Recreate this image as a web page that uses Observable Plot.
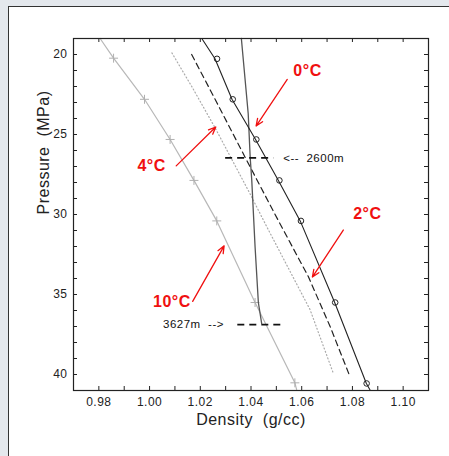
<!DOCTYPE html>
<html><head><meta charset="utf-8">
<script src="https://cdn.jsdelivr.net/npm/d3@7"></script>
<script src="https://cdn.jsdelivr.net/npm/@observablehq/plot@0.6"></script>
<style>
html,body{margin:0;padding:0;}
body{width:449px;height:456px;background:#e4e8ed;position:relative;overflow:hidden;font-family:"Liberation Sans",Arial,sans-serif;}
#panel{position:absolute;left:8px;top:6px;width:470px;height:480px;background:#fff;border-left:1px solid #333;border-top:1px solid #333;}
#chart{position:absolute;left:0;top:0;}
</style></head><body><div id="panel"></div><div id="chart"></div>
<script>
// ---- data ----
const xTicks = [0.98, 1.00, 1.02, 1.04, 1.06, 1.08, 1.10];
const xMinorTicks = [0.97,0.98,0.99,1.00,1.01,1.02,1.03,1.04,1.05,1.06,1.07,1.08,1.09,1.10,1.11];
const yTicks = [20, 25, 30, 35, 40];
const yMinorTicks = [19,20,21,22,23,24,25,26,27,28,29,30,31,32,33,34,35,36,37,38,39,40,41];

// 10 C curve (light gray solid, + markers)
const line10D = [0.9805, 0.9858, 0.9980, 1.0081, 1.0175, 1.0265, 1.0416, 1.0573, 1.0580];
const line10P = [19.0, 20.23, 22.8, 25.31, 27.87, 30.4, 35.5, 40.52, 40.95];
const mark10D = [0.9858, 0.9980, 1.0081, 1.0175, 1.0265, 1.0416, 1.0573];
const mark10P = [20.23, 22.8, 25.31, 27.87, 30.4, 35.5, 40.52];

// 0 C curve (black solid, circle markers)
const line0D = [1.0206, 1.0258, 1.0325, 1.0418, 1.0508, 1.0594, 1.0730, 1.0855, 1.0869];
const line0P = [19.0, 20.27, 22.8, 25.31, 27.87, 30.4, 35.5, 40.56, 40.95];
const mark0D = [1.0266, 1.0328, 1.0421, 1.0512, 1.0597, 1.0732, 1.0856];
const mark0P = [20.27, 22.8, 25.31, 27.87, 30.4, 35.5, 40.56];

// 2 C curve (black dashed)
const line2D = [1.0166, 1.0265, 1.0378, 1.0495, 1.0626, 1.0712, 1.0787];
const line2P = [20.0, 23.0, 26.46, 30.0, 33.88, 37.0, 40.0];

// 4 C curve (gray dotted)
const line4D = [1.0088, 1.0170, 1.0259, 1.0396, 1.0462, 1.0633, 1.0724];
const line4P = [19.9, 22.1, 24.6, 28.7, 30.76, 35.95, 39.9];

// near-vertical profile line
const profD = [1.0362, 1.0389, 1.0397, 1.0403, 1.0416, 1.0429, 1.0442];
const profP = [19.0, 23.7, 26.48, 27.85, 32.0, 35.5, 36.8];

// depth markers
const depthLabels = ["<--  2600m", "3627m  -->"];
const depthP = [26.46, 36.88];
const depthD1 = [1.0298, 1.0346];
const depthD2 = [1.0488, 1.0534];
const depthTextD = [1.0527, 1.0053];

// red temperature labels and arrows
const tempLabels = ["0°C", "4°C", "2°C", "10°C"];
const tempTextD = [1.0623, 1.0008, 1.0859, 1.0088];
const tempTextP = [21.0, 26.95, 29.93, 35.43];
const arrowD1 = [1.0543, 1.0105, 1.0764, 1.0170];
const arrowP1 = [21.56, 26.96, 30.97, 35.43];
const arrowD2 = [1.0420, 1.0261, 1.0642, 1.0294];
const arrowP2 = [24.47, 24.53, 33.91, 31.96];

// ---- build tables ----
const zip = (D, P) => D.map((d, i) => ({D: d, P: P[i]}));
const depths = depthLabels.map((t, i) => ({t, P: depthP[i], D1: depthD1[i], D2: depthD2[i], Dt: depthTextD[i]}));
const temps = tempLabels.map((t, i) => ({t, D: tempTextD[i], P: tempTextP[i], D1: arrowD1[i], P1: arrowP1[i], D2: arrowD2[i], P2: arrowP2[i]}));

const W = 449, H = 456, mL = 73, mR = 21, mT = 38, mB = 66;
const fw = W - mL - mR, fh = H - mT - mB;
const tl = 4;
const font = "'Liberation Sans', Arial, Helvetica, sans-serif";

const chart = Plot.plot({
  width: W, height: H,
  marginLeft: mL, marginRight: mR, marginTop: mT, marginBottom: mB,
  style: {background: "transparent", fontFamily: font, fontSize: "12px", color: "#222", letterSpacing: "0.5px"},
  x: {domain: [0.97, 1.11], ticks: xTicks, tickSize: 0, tickPadding: 7, tickFormat: d3.format(".2f"), label: null},
  y: {domain: [19, 41], reverse: true, ticks: yTicks, tickSize: 0, tickPadding: 6, tickFormat: d3.format("d"), label: null},
  marks: [
    // inward ticks on all four sides
    Plot.ruleX(xMinorTicks, {x: d => d, insetTop: fh - tl, stroke: "#222"}),
    Plot.ruleX(xMinorTicks, {x: d => d, insetBottom: fh - tl, stroke: "#222"}),
    Plot.ruleY(yMinorTicks, {y: d => d, insetRight: fw - tl, stroke: "#222"}),
    Plot.ruleY(yMinorTicks, {y: d => d, insetLeft: fw - tl, stroke: "#222"}),
    // curves
    Plot.line(zip(line4D, line4P), {x: "D", y: "P", stroke: "#aaa", strokeWidth: 1.2, strokeDasharray: "1,2.5"}),
    Plot.line(zip(line10D, line10P), {x: "D", y: "P", stroke: "#b8b8b8", strokeWidth: 1.2}),
    Plot.dot(zip(mark10D, mark10P), {x: "D", y: "P", symbol: "plus", r: 3, stroke: "#b0b0b0", strokeWidth: 1}),
    Plot.line(zip(line2D, line2P), {x: "D", y: "P", stroke: "#222", strokeWidth: 1.2, strokeDasharray: "6,4"}),
    Plot.line(zip(profD, profP), {x: "D", y: "P", stroke: "#555", strokeWidth: 1.3}),
    Plot.line(zip(line0D, line0P), {x: "D", y: "P", stroke: "#222", strokeWidth: 1.1}),
    Plot.dot(zip(mark0D, mark0P), {x: "D", y: "P", r: 2.8, stroke: "#222", strokeWidth: 1, fill: "none"}),
    // depth markers
    Plot.link(depths, {x1: "D1", x2: "D2", y1: "P", y2: "P", stroke: "#111", strokeWidth: 1.8, strokeDasharray: "7,5"}),
    Plot.text(depths, {x: "Dt", y: "P", text: "t", textAnchor: "start", fontSize: 11.5, fill: "#111", letterSpacing: "0.5px"}),
    // red labels
    Plot.arrow(temps, {x1: "D1", y1: "P1", x2: "D2", y2: "P2", stroke: "#f01010", strokeWidth: 1.3, headLength: 9, headAngle: 45}),
    Plot.text(temps, {x: "D", y: "P", text: "t", fill: "#f01010", fontSize: 16, fontWeight: "bold", letterSpacing: "0px"}),
    // axis titles
    Plot.text(["Density  (g/cc)"], {frameAnchor: "bottom", dy: 34, text: d => d, fontSize: 16, fill: "#222"}),
    Plot.text(["Pressure  (MPa)"], {frameAnchor: "left", dx: -30, rotate: -90, text: d => d, fontSize: 16, fill: "#222"}),
    Plot.frame({stroke: "#222", strokeWidth: 1.2})
  ]
});
document.getElementById("chart").appendChild(chart);
</script></body></html>
